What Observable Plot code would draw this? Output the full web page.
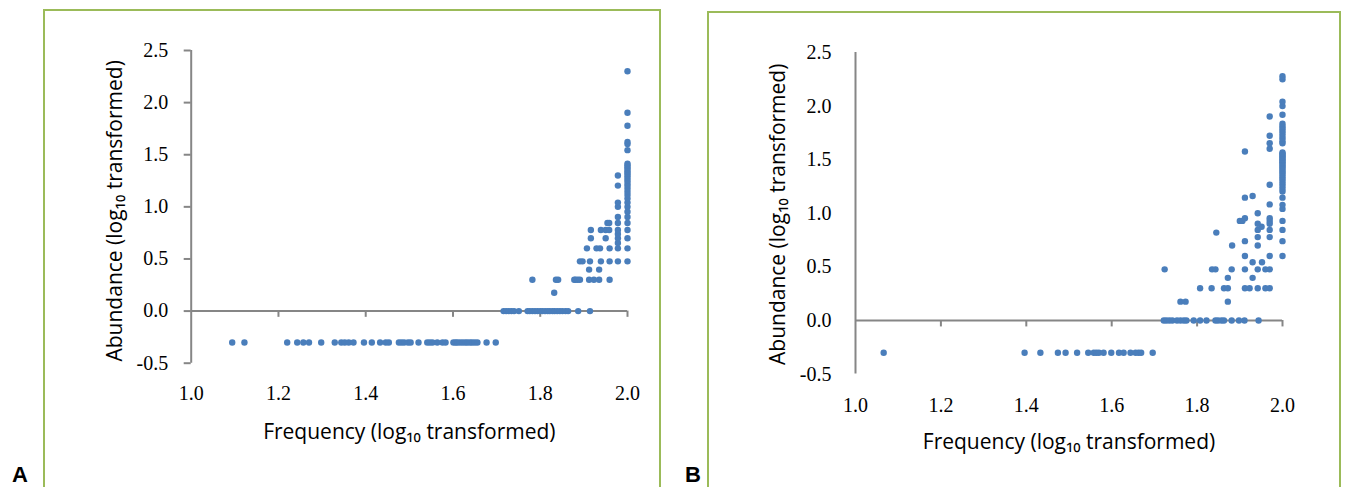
<!DOCTYPE html>
<html><head><meta charset="utf-8">
<script src="https://cdn.jsdelivr.net/npm/d3@7"></script>
<script src="https://cdn.jsdelivr.net/npm/@observablehq/plot@0.6"></script>
<style>
body{margin:0;background:#fff;}
#wrap{position:relative;width:1347px;height:487px;overflow:hidden;background:#fff;}
.frame{position:absolute;border:2px solid #9bbb59;border-bottom:none;box-sizing:border-box;}
.plot{position:absolute;top:0;}
.tag{position:absolute;font-family:"Liberation Sans",Arial,sans-serif;font-weight:bold;font-size:22px;line-height:22px;color:#000;}
</style></head><body>
<div id="wrap">
  <div class="frame" style="left:43px;top:9px;width:618px;height:490px"></div>
  <div class="frame" style="left:707px;top:11px;width:634px;height:490px"></div>
  <div id="pa" class="plot" style="left:0px"></div>
  <div id="pb" class="plot" style="left:680px"></div>
  <div class="tag" style="left:12px;top:464px">A</div>
  <div class="tag" style="left:685px;top:464px">B</div>
</div>
<script>
// tick values
const xTicks = [1.0, 1.2, 1.4, 1.6, 1.8, 2.0];
const yTicks = [-0.5, 0.0, 0.5, 1.0, 1.5, 2.0, 2.5];
const xTitle = "Frequency (log\u2081\u2080 transformed)";
const yTitle = "Abundance (log\u2081\u2080 transformed)";

// Panel A: [frequency, abundance]
const pointsA = [
  [1.094,-0.301],[1.122,-0.301],[1.220,-0.301],[1.243,-0.301],[1.257,-0.301],[1.270,-0.301],[1.298,-0.301],
  [1.329,-0.301],[1.344,-0.301],[1.352,-0.301],[1.361,-0.301],[1.372,-0.301],[1.396,-0.301],[1.414,-0.301],
  [1.433,-0.301],[1.446,-0.301],[1.453,-0.301],[1.476,-0.301],[1.482,-0.301],[1.488,-0.301],[1.497,-0.301],
  [1.503,-0.301],[1.521,-0.301],[1.541,-0.301],[1.547,-0.301],[1.553,-0.301],[1.564,-0.301],[1.576,-0.301],
  [1.583,-0.301],[1.601,-0.301],[1.606,-0.301],[1.610,-0.301],[1.616,-0.301],[1.622,-0.301],[1.628,-0.301],
  [1.633,-0.301],[1.639,-0.301],[1.644,-0.301],[1.650,-0.301],[1.656,-0.301],[1.677,-0.301],[1.698,-0.301],
  [1.716,0],[1.722,0],[1.728,0],[1.734,0],[1.740,0],[1.751,0],[1.771,0],[1.776,0],[1.782,0],[1.788,0],
  [1.794,0],[1.800,0],[1.805,0],[1.811,0],[1.817,0],[1.822,0],[1.828,0],[1.833,0],[1.839,0],[1.845,0],
  [1.851,0],[1.858,0],[1.864,0],[1.887,0],[1.914,0],
  [1.832,0.176],
  [1.782,0.301],[1.836,0.301],[1.841,0.301],[1.878,0.301],[1.881,0.301],[1.886,0.301],[1.891,0.301],
  [1.912,0.301],[1.923,0.301],[1.935,0.301],[1.959,0.301],
  [1.912,0.398],[1.935,0.398],
  [1.891,0.477],[1.897,0.477],[1.914,0.477],[1.939,0.477],[1.959,0.477],[1.978,0.477],[2.0,0.477],
  [1.907,0.602],[1.929,0.602],[1.937,0.602],[1.959,0.602],[1.978,0.602],[2.0,0.602],
  [1.978,0.653],
  [1.916,0.699],[1.950,0.699],[1.978,0.699],[2.0,0.699],
  [1.978,0.740],
  [1.916,0.778],[1.939,0.778],[1.950,0.778],[1.958,0.778],[1.978,0.778],[2.0,0.778],
  [1.954,0.845],[1.958,0.845],[1.978,0.845],[2.0,0.845],
  [1.978,0.903],[2.0,0.903],[2.0,0.954],[1.978,1.0],[2.0,1.0],[1.978,1.041],[2.0,1.041],
  [1.978,1.204],[1.978,1.301],
  [2.0,1.079],[2.0,1.114],[2.0,1.146],[2.0,1.176],[2.0,1.204],[2.0,1.230],[2.0,1.255],[2.0,1.279],
  [2.0,1.301],[2.0,1.322],[2.0,1.342],[2.0,1.362],[2.0,1.380],[2.0,1.398],[2.0,1.415],[2.0,1.544],
  [2.0,1.602],[2.0,1.623],[2.0,1.778],[2.0,1.903],[2.0,2.301]
];

// Panel B: [frequency, abundance]
const pointsB = [
  [1.066,-0.301],[1.396,-0.301],[1.433,-0.301],[1.474,-0.301],[1.492,-0.301],[1.519,-0.301],[1.545,-0.301],
  [1.558,-0.301],[1.564,-0.301],[1.570,-0.301],[1.581,-0.301],[1.599,-0.301],[1.617,-0.301],[1.628,-0.301],
  [1.644,-0.301],[1.656,-0.301],[1.663,-0.301],[1.669,-0.301],[1.696,-0.301],
  [1.722,0],[1.728,0],[1.735,0],[1.742,0],[1.753,0],[1.761,0],[1.769,0],[1.775,0],[1.792,0],[1.807,0],
  [1.822,0],[1.843,0],[1.849,0],[1.857,0],[1.863,0],[1.881,0],[1.898,0],[1.911,0],[1.944,0],
  [1.761,0.176],[1.773,0.176],[1.872,0.176],
  [1.807,0.301],[1.834,0.301],[1.863,0.301],[1.872,0.301],[1.912,0.301],[1.923,0.301],[1.942,0.301],
  [1.960,0.301],[1.970,0.301],
  [1.872,0.398],[1.930,0.398],
  [1.724,0.477],[1.835,0.477],[1.843,0.477],[1.881,0.477],[1.912,0.477],[1.942,0.477],[1.960,0.477],[1.970,0.477],
  [1.930,0.544],[1.952,0.544],
  [1.912,0.602],[1.970,0.602],[2.0,0.602],
  [1.882,0.699],[1.942,0.699],
  [1.912,0.740],[2.0,0.740],
  [1.942,0.778],[1.970,0.778],
  [1.845,0.820],
  [1.942,0.845],[1.970,0.845],[2.0,0.845],
  [1.951,0.875],
  [1.942,0.903],[1.970,0.903],
  [1.900,0.929],[1.906,0.929],[1.970,0.929],[2.0,0.929],
  [1.912,0.954],[1.970,0.954],
  [1.942,1.0],[1.970,1.083],[1.912,1.146],[1.930,1.161],[1.970,1.267],[1.912,1.576],
  [1.970,1.602],[1.970,1.653],[1.970,1.724],[1.970,1.903],
  [2.0,1.041],[2.0,1.079],[2.0,1.146],[2.0,1.204],[2.0,1.230],[2.0,1.255],[2.0,1.279],[2.0,1.301],
  [2.0,1.322],[2.0,1.342],[2.0,1.362],[2.0,1.380],[2.0,1.398],[2.0,1.415],[2.0,1.431],[2.0,1.447],
  [2.0,1.462],[2.0,1.477],[2.0,1.491],[2.0,1.505],[2.0,1.519],[2.0,1.531],[2.0,1.544],[2.0,1.556],
  [2.0,1.568],[2.0,1.653],[2.0,1.672],[2.0,1.699],[2.0,1.724],[2.0,1.748],[2.0,1.771],[2.0,1.792],
  [2.0,1.813],[2.0,1.835],[2.0,1.919],[2.0,2.0],[2.0,2.041],[2.0,2.250],[2.0,2.279]
];

const axisGray = "#868686";
const dotBlue = "#4a7ebb";
const fmt = d => d.toFixed(1);

function panel(points, o) {
  return Plot.plot({
    width: o.width, height: o.height,
    marginLeft: o.mL, marginRight: o.mR, marginTop: o.mT, marginBottom: o.mB,
    x: {domain: [1, 2]},
    y: {domain: [-0.5, 2.5]},
    style: {background: "transparent", overflow: "visible"},
    marks: [
      Plot.ruleY([0], {x1: 1, x2: 2, stroke: axisGray, strokeWidth: 2}),
      Plot.ruleX(xTicks.slice(1), {x: d => d, y1: 0, y2: -0.06, stroke: axisGray, strokeWidth: 2}),
      Plot.ruleX([1], {y1: -0.5, y2: 2.5, stroke: axisGray, strokeWidth: 2}),
      Plot.axisY(yTicks, {anchor: "left", tickSize: o.yTickSize, tickPadding: o.yTickPad,
        tickFormat: fmt, fontSize: 20, fontFamily: "Liberation Serif", stroke: axisGray,
        strokeWidth: 2, fill: "#000", label: null}),
      Plot.axisX(xTicks, {anchor: "bottom", tickSize: 0, tickPadding: o.xTickPad,
        tickFormat: fmt, fontSize: 20, fontFamily: "Liberation Serif", fill: "#000", label: null}),
      Plot.dot(points, {x: d => d[0], y: d => d[1], r: 3.2, fill: dotBlue}),
      Plot.text([xTitle], {text: d => d, frameAnchor: "bottom", dy: o.xTitleDy,
        textAnchor: "middle", lineAnchor: "middle",
        fontSize: 21, fontFamily: "Open Sans", fill: "#000"}),
      Plot.text([yTitle], {text: d => d, frameAnchor: "left", rotate: -90, dx: o.yTitleDx, dy: o.yTitleDy,
        textAnchor: "middle", lineAnchor: "middle",
        fontSize: 21, fontFamily: "Open Sans", fill: "#000"})
    ]
  });
}

document.getElementById("pa").append(panel(pointsA, {
  width: 680, height: 487, mL: 190.7, mR: 53, mT: 50, mB: 124.3,
  yTickSize: 7, yTickPad: 16, xTickPad: 22.5, xTitleDy: 69.3, yTitleDx: -75.7, yTitleDy: 4
}));
document.getElementById("pb").append(panel(pointsB, {
  width: 667, height: 487, mL: 175, mR: 65, mT: 52, mB: 113.4,
  yTickSize: 0, yTickPad: 24, xTickPad: 23.6, xTitleDy: 68.4, yTitleDx: -77, yTitleDy: 1
}));
</script>
</body></html>
